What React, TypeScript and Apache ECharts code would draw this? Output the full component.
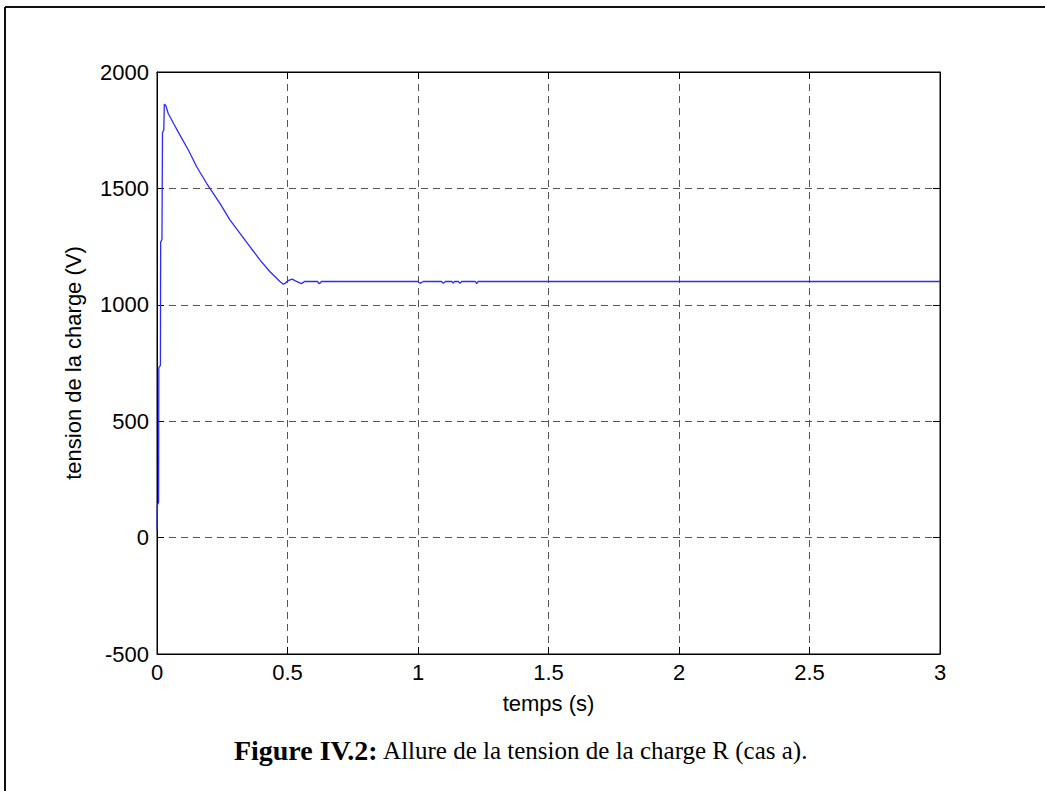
import React, { useEffect, useRef } from "react";
import * as echarts from "echarts";

const timeS: number[] = [
  0, 0.001, 0.006, 0.007, 0.013, 0.014, 0.019, 0.021, 0.026, 0.028, 0.034,
  0.043, 0.063, 0.088, 0.12, 0.152, 0.19, 0.241, 0.28, 0.318, 0.356, 0.395,
  0.433, 0.471, 0.484, 0.49, 0.505, 0.518, 0.53, 0.545, 0.554, 0.565, 0.615,
  0.622, 0.63, 1.0, 1.008, 1.02, 1.09, 1.097, 1.105, 1.13, 1.135, 1.14, 1.155,
  1.161, 1.167, 1.22, 1.225, 1.23, 3.0,
];
const voltageV: number[] = [
  30, 140, 150, 730, 740, 1270, 1280, 1740, 1750, 1862, 1855,
  1822, 1780, 1729, 1665, 1593, 1522, 1436, 1364, 1307, 1250, 1192,
  1142, 1100, 1088, 1092, 1105, 1110, 1103, 1095, 1091, 1100, 1100,
  1090, 1100, 1100, 1092, 1100, 1100, 1092, 1100, 1100, 1093, 1100, 1100,
  1092, 1100, 1100, 1091, 1100, 1100,
];
const xTicks = { min: 0, max: 3, interval: 0.5 };
const yTicks = { min: -500, max: 2000, interval: 500 };
const xLabel = "temps (s)";
const yLabel = "tension de la charge (V)";
const captionBold = "Figure IV.2:";
const captionText = " Allure de la tension de la charge R (cas a).";

export default function App() {
  const ref = useRef<HTMLDivElement>(null);
  useEffect(() => {
    if (!ref.current) return;
    const chart = echarts.init(ref.current, null, { renderer: "svg" });
    const font = "'Liberation Sans', Arial, Helvetica, sans-serif";
    const serif = "'Liberation Serif', 'Times New Roman', serif";
    const split = {
      show: true,
      lineStyle: { color: "#555", type: [7, 5] as any, width: 1 },
    };
    const tick = { show: true, inside: true, length: 7, lineStyle: { color: "#000" } };
    const label = {
      color: "#000",
      fontFamily: font,
      fontSize: 22,
      formatter: (v: number) => String(v),
    };
    chart.setOption({
      animation: false,
      backgroundColor: "#fff",
      grid: {
        left: 157,
        top: 72,
        width: 783,
        height: 582,
        show: true,
        borderColor: "#000",
        borderWidth: 1,
        backgroundColor: "transparent",
      },
      xAxis: [
        {
          type: "value",
          ...xTicks,
          position: "bottom",
          axisLine: { show: true, onZero: false, lineStyle: { color: "#000" } },
          axisTick: tick,
          axisLabel: { ...label, margin: 7 },
          splitLine: split,
          name: xLabel,
          nameLocation: "middle",
          nameGap: 38,
          nameTextStyle: { color: "#000", fontFamily: font, fontSize: 22 },
        },
        {
          type: "value",
          ...xTicks,
          position: "top",
          axisLine: { show: true, onZero: false, lineStyle: { color: "#000" } },
          axisTick: tick,
          axisLabel: { show: false },
          splitLine: { show: false },
        },
      ],
      yAxis: [
        {
          type: "value",
          ...yTicks,
          position: "left",
          axisLine: { show: true, onZero: false, lineStyle: { color: "#000" } },
          axisTick: tick,
          axisLabel: { ...label, margin: 8 },
          splitLine: split,
          name: yLabel,
          nameLocation: "middle",
          nameGap: 73,
          nameTextStyle: { color: "#000", fontFamily: font, fontSize: 22 },
        },
        {
          type: "value",
          ...yTicks,
          position: "right",
          axisLine: { show: true, onZero: false, lineStyle: { color: "#000" } },
          axisTick: tick,
          axisLabel: { show: false },
          splitLine: { show: false },
        },
      ],
      series: [
        {
          type: "line",
          xAxisIndex: 0,
          yAxisIndex: 0,
          data: timeS.map((t, i) => [t, voltageV[i]]),
          showSymbol: false,
          symbol: "none",
          lineStyle: { color: "#2b2bff", width: 1.3 },
          z: 5,
        },
      ],
      graphic: [
        {
          type: "line",
          shape: { x1: 5, y1: 7, x2: 1045, y2: 7 },
          style: { stroke: "#111", lineWidth: 2 },
        },
        {
          type: "line",
          shape: { x1: 5, y1: 7, x2: 5, y2: 791 },
          style: { stroke: "#111", lineWidth: 2 },
        },
        {
          type: "text",
          x: 521,
          y: 750,
          style: {
            text: "{b|" + captionBold + "}{n|" + captionText + "}",
            align: "center",
            verticalAlign: "middle",
            fill: "#000",
            rich: {
              b: {
                fontFamily: serif,
                fontWeight: "bold",
                fontSize: 28,
                fill: "#000",
              },
              n: {
                fontFamily: serif,
                fontSize: 25,
                fill: "#000",
              },
            },
          },
        },
      ],
    });
    return () => chart.dispose();
  }, []);
  return (
    <div
      ref={ref}
      style={{ position: "fixed", left: 0, top: 0, width: 1045, height: 791 }}
    />
  );
}
